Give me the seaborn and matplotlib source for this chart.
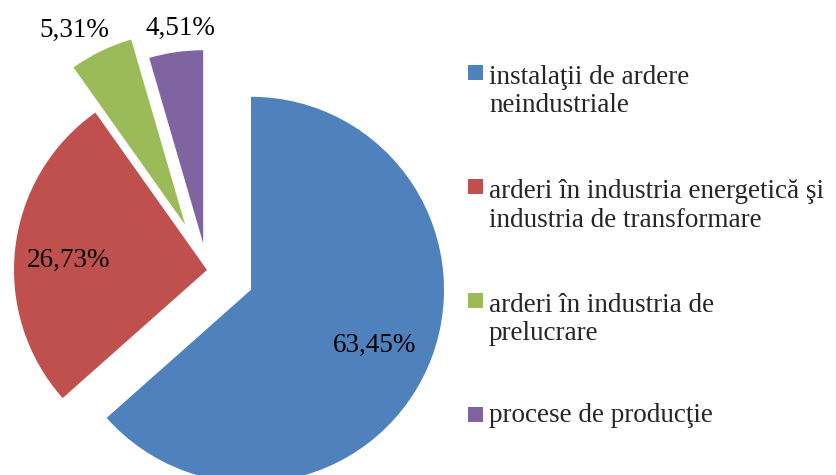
import numpy as np
import matplotlib
matplotlib.use("Agg")
import matplotlib.pyplot as plt
from matplotlib.patches import Rectangle
import seaborn as sns

# data
categories = [
    "instalaţii de ardere\nneindustriale",
    "arderi în industria energetică şi\nindustria de transformare",
    "arderi în industria de\nprelucrare",
    "procese de producţie",
]
shares = [63.45, 26.73, 5.31, 4.51]
colors = ["#4F81BD", "#C0504D", "#9BBB59", "#8064A2"]

# layout tweaks (Excel "best fit" labels, exploded slices)
explode = [0.25, 0.0, 0.26, 0.14]
label_dist = [0.70, 0.72, 1.16, 1.12]
label_turn = [0.0, 2.4, 4.0, -2.0]

sns.set_theme(style="white")
plt.rcParams["font.family"] = ["Liberation Serif", "DejaVu Serif"]
FS = 19.5

fig = plt.figure(figsize=(8.37, 4.75), dpi=100)
W, H = 837, 475
ax = fig.add_axes([0, 0, 460 / W, 1])

palette = sns.color_palette(colors)
wedges, texts, autotexts = ax.pie(
    shares,
    explode=explode,
    colors=palette,
    startangle=90,
    counterclock=False,
    radius=1.0,
    autopct=lambda p: f"{p:.2f}%".replace(".", ","),
    textprops=dict(fontsize=FS, color="black"),
    wedgeprops=dict(linewidth=0),
)

for w, t, d, turn in zip(wedges, autotexts, label_dist, label_turn):
    ang = np.deg2rad((w.theta1 + w.theta2) / 2 + turn)
    cx, cy = w.center
    t.set_position((cx + d * w.r * np.cos(ang), cy + d * w.r * np.sin(ang)))
    t.set_ha("center")
    t.set_va("center")

# pie centre at (207, 270) px, radius 193 px
s = 193.0
ax.set_xlim(-207 / s, (460 - 207) / s)
ax.set_ylim(-(H - 270) / s, 270 / s)
ax.set_aspect("auto")
ax.axis("off")

# legend: square aligned with the first line of each label
first_baseline = 80
step = 114
line_px = 32.5
for i, (lab, col) in enumerate(zip(categories, palette)):
    base = first_baseline + i * step
    last_base = base + (lab.count("\n")) * line_px
    fig.add_artist(Rectangle((468 / W, 1 - base / H), 15 / W, 15 / H,
                             transform=fig.transFigure, color=col, lw=0))
    fig.text(489 / W, 1 - last_base / H, lab, fontsize=FS, va="baseline",
             ha="left", linespacing=line_px / (FS * 100 / 72))

fig.savefig("out.png", dpi=100)
